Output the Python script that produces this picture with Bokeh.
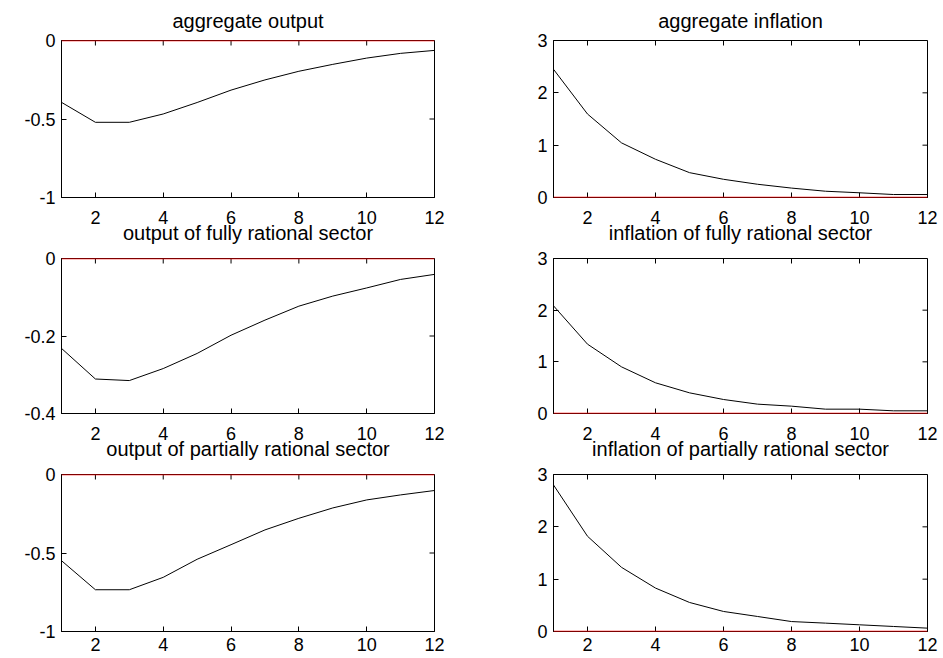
import math
from bokeh.plotting import figure
from bokeh.layouts import column, row
from bokeh.models import (Range1d, FixedTicker, LinearAxis, NumeralTickFormatter,
                          Span, Title)
from bokeh.embed import file_html
from bokeh.resources import INLINE

# ---------------- data ----------------
periods = [1, 2, 3, 4, 5, 6, 7, 8, 9, 10, 11, 12]

aggregate_output = [-0.394, -0.521, -0.521, -0.468, -0.395, -0.316,
                    -0.251, -0.196, -0.152, -0.112, -0.082, -0.063]
aggregate_inflation = [2.45, 1.595, 1.044, 0.73, 0.475, 0.348,
                       0.253, 0.18, 0.12, 0.09, 0.057, 0.057]
output_fully = [-0.232, -0.311, -0.315, -0.284, -0.245, -0.198,
                -0.159, -0.123, -0.097, -0.076, -0.054, -0.041]
inflation_fully = [2.084, 1.342, 0.903, 0.594, 0.40, 0.271,
                   0.181, 0.142, 0.084, 0.084, 0.052, 0.052]
output_partial = [-0.549, -0.734, -0.734, -0.655, -0.54, -0.447,
                  -0.353, -0.279, -0.213, -0.162, -0.130, -0.102]
inflation_partial = [2.80, 1.82, 1.226, 0.83, 0.555, 0.383,
                     0.287, 0.19, 0.16, 0.128, 0.096, 0.064]

titles = ["aggregate output", "aggregate inflation",
          "output of fully rational sector", "inflation of fully rational sector",
          "output of partially rational sector", "inflation of partially rational sector"]
series = [aggregate_output, aggregate_inflation, output_fully,
          inflation_fully, output_partial, inflation_partial]
y_limits = [(-1, 0), (0, 3), (-0.4, 0), (0, 3), (-1, 0), (0, 3)]
y_ticks = [[-1, -0.5, 0], [0, 1, 2, 3], [-0.4, -0.2, 0], [0, 1, 2, 3],
           [-1, -0.5, 0], [0, 1, 2, 3]]
x_ticks = [2, 4, 6, 8, 10, 12]
x_limits = (1, 12)
baseline = 0

FONT = "Liberation Sans"
TICK_FS = "18px"
TITLE_FS = "20px"

# layout geometry: (top border, frame height, bottom border) per row
rows_geo = [(40, 157, 48), (13, 155, 50), (11, 157, 27)]
cols_geo = [(61, 373, 36), (83, 374, 16)]
x_label_standoff = [13, 13, 6]
# title placement tuning
first_title_standoff = 14
below_title_standoff = [None, -9.6, -8.5]   # titles of rows 2, 3 (hung below previous row)


def make_panel(i):
    r, c = divmod(i, 2)
    top, fh, bottom = rows_geo[r]
    left, fw, right = cols_geo[c]
    y0, y1 = y_limits[i]
    p = figure(frame_width=fw, frame_height=fh,
               min_border_left=left, min_border_right=right,
               min_border_top=top, min_border_bottom=bottom,
               x_range=Range1d(*x_limits), y_range=Range1d(y0, y1),
               output_backend="svg", toolbar_location=None,
               x_axis_location=None, y_axis_location=None)
    p.background_fill_color = "white"
    p.border_fill_color = "white"
    p.grid.visible = False
    p.outline_line_color = "black"
    p.outline_line_width = 1
    p.outline_line_alpha = 1

    for loc, ticks in (("below", x_ticks), ("left", y_ticks[i])):
        a = LinearAxis()
        a.ticker = FixedTicker(ticks=ticks)
        a.minor_tick_line_color = None
        a.major_tick_in = 5
        a.major_tick_out = 0
        a.major_tick_line_color = "black"
        a.axis_line_color = "black"
        a.major_label_text_font = FONT
        a.major_label_text_font_size = TICK_FS
        a.major_label_text_color = "black"
        a.major_label_standoff = 6 if loc == "left" else x_label_standoff[r]
        a.formatter = NumeralTickFormatter(format="0.[0]")
        p.add_layout(a, loc)

    # inward ticks on the top and right edges of the box (MATLAB style)
    p.ray(x=x_ticks, y=[y1] * len(x_ticks), length=5, length_units="screen",
          angle=-math.pi / 2, line_color="black", line_width=1)
    p.ray(x=[x_limits[1]] * len(y_ticks[i]), y=y_ticks[i], length=5,
          length_units="screen", angle=math.pi, line_color="black", line_width=1)

    p.line(periods, series[i], line_color="black", line_width=1)
    p.add_layout(Span(location=baseline, dimension="width", line_color="red",
                      line_width=1.5, level="overlay"))
    return p


def title(text, valign, standoff):
    return Title(text=text, align="center", vertical_align=valign, standoff=standoff,
                 text_font=FONT, text_font_size=TITLE_FS, text_font_style="normal",
                 text_color="black")


panels = [make_panel(i) for i in range(6)]
for i in range(6):
    r = i // 2
    if r == 0:
        panels[i].add_layout(title(titles[i], "top", first_title_standoff), "above")
    else:
        panels[i - 2].add_layout(title(titles[i], "top", below_title_standoff[r]), "below")

layout = column(row(panels[0], panels[1]),
                row(panels[2], panels[3]),
                row(panels[4], panels[5]))

open("out.html", "w").write(file_html(layout, INLINE))
